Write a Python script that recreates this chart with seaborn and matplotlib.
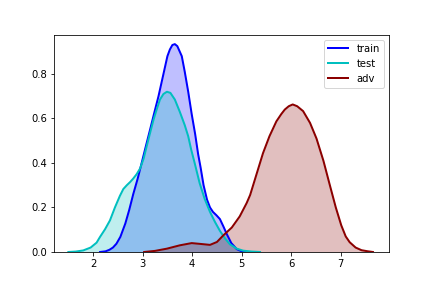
import pandas as pd
import matplotlib
matplotlib.use("Agg")
import matplotlib.pyplot as plt
import seaborn as sns

# density curves
train_x = [2.14, 2.25, 2.33, 2.40, 2.47, 2.55, 2.65, 2.73, 2.81, 2.90, 2.98, 3.07, 3.15, 3.24,
           3.32, 3.40, 3.45, 3.50, 3.55, 3.60, 3.65, 3.70, 3.75, 3.79, 3.85, 3.92,
           3.99, 4.06, 4.12, 4.17, 4.23, 4.30, 4.36, 4.42, 4.49, 4.56, 4.63, 4.70,
           4.79, 4.90, 5.00, 5.10]
train_y = [0.0, 0.003, 0.01, 0.02, 0.037, 0.068, 0.128, 0.19, 0.26, 0.33, 0.40, 0.48, 0.55, 0.63,
           0.70, 0.78, 0.83, 0.88, 0.91, 0.93, 0.934, 0.925, 0.90, 0.88, 0.81, 0.72,
           0.62, 0.53, 0.44, 0.38, 0.30, 0.235, 0.20, 0.18, 0.165, 0.148, 0.115, 0.08,
           0.04, 0.013, 0.003, 0.0]

test_x = [1.50, 1.65, 1.80, 1.95, 2.07, 2.14, 2.24, 2.34, 2.44, 2.54, 2.61, 2.68, 2.75,
          2.81, 2.88, 2.95, 3.02, 3.08, 3.15, 3.22, 3.29, 3.35, 3.42, 3.49, 3.56,
          3.65, 3.75, 3.85, 3.92, 3.98, 4.05, 4.15, 4.25, 4.36, 4.46, 4.56, 4.66,
          4.76, 4.90, 5.03, 5.20, 5.37]
test_y = [0.0, 0.002, 0.007, 0.02, 0.042, 0.068, 0.102, 0.142, 0.20, 0.252, 0.283, 0.30, 0.315,
          0.33, 0.35, 0.376, 0.42, 0.474, 0.535, 0.595, 0.645, 0.685, 0.71, 0.72, 0.715,
          0.685, 0.63, 0.57, 0.52, 0.46, 0.40, 0.31, 0.24, 0.18, 0.135, 0.095, 0.062,
          0.035, 0.015, 0.006, 0.002, 0.0]

adv_x = [3.03, 3.25, 3.49, 3.75, 3.99, 4.18, 4.36, 4.50, 4.63, 4.80, 4.96, 5.10, 5.17,
         5.30, 5.43, 5.56, 5.70, 5.80, 5.87, 5.95, 6.03, 6.12, 6.24, 6.38, 6.51,
         6.65, 6.78, 6.90, 7.01, 7.10, 7.18, 7.30, 7.42, 7.55, 7.65]
adv_y = [0.0, 0.005, 0.015, 0.03, 0.04, 0.036, 0.032, 0.045, 0.075, 0.11, 0.16, 0.22, 0.256,
         0.35, 0.444, 0.52, 0.587, 0.62, 0.64, 0.655, 0.663, 0.655, 0.633, 0.58, 0.51,
         0.41, 0.30, 0.20, 0.12, 0.07, 0.044, 0.02, 0.008, 0.003, 0.0]

labels = ["train", "test", "adv"]
colors = ["b", "c", "darkred"]

plt.rcParams['font.size'] = 10

frames = []
for lab, xs, ys in zip(labels, [train_x, test_x, adv_x], [train_y, test_y, adv_y]):
    frames.append(pd.DataFrame({"x": xs, "density": ys, "set": lab}))
df = pd.concat(frames, ignore_index=True)

fig, ax = plt.subplots(figsize=(6, 4), dpi=72)
fig.subplots_adjust(left=0.125, right=0.9, top=0.88, bottom=0.125)

for lab, col in zip(labels, colors):
    sub = df[df["set"] == lab]
    ax.fill_between(sub["x"], sub["density"], color=col, alpha=0.25, linewidth=0)
    sns.lineplot(data=sub, x="x", y="density", color=col, linewidth=2, label=lab, ax=ax)

ax.set_xlim(1.21, 7.97)
ax.set_ylim(0, 0.977)
ax.set_xticks([2, 3, 4, 5, 6, 7])
ax.set_yticks([0.0, 0.2, 0.4, 0.6, 0.8])
ax.set_xlabel("")
ax.set_ylabel("")
ax.legend(loc="upper right")

fig.savefig("out.png", dpi=72)
